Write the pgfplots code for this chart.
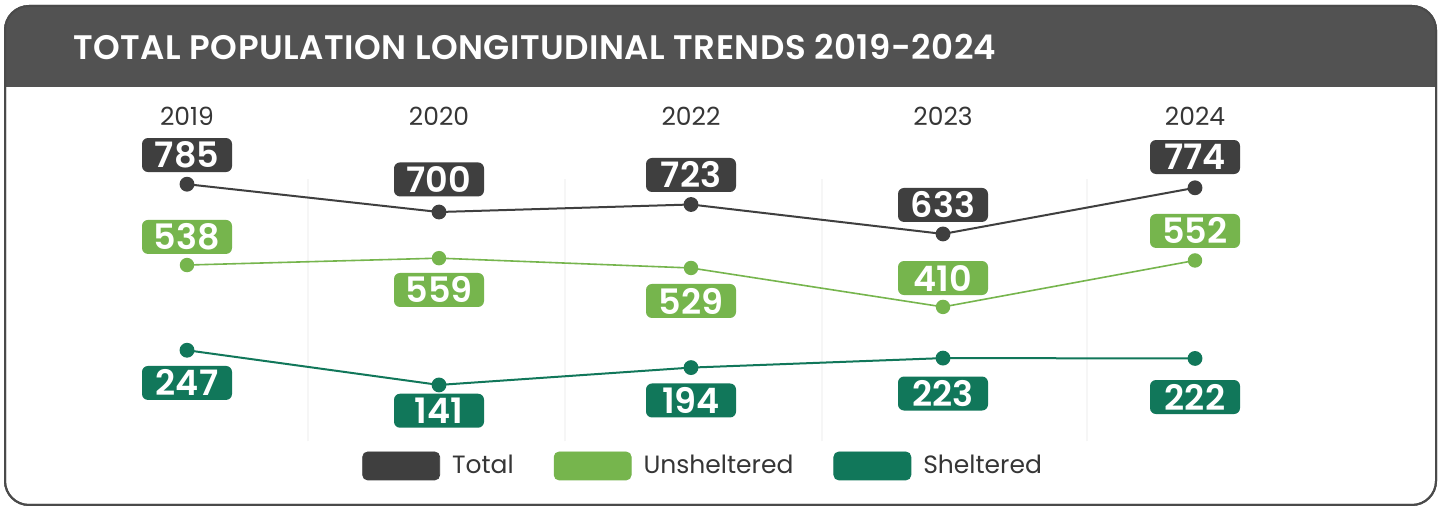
\documentclass[border=0pt]{standalone}
\usepackage{pgfplots}
\pgfplotsset{compat=1.18}
\usepackage{pgfplotstable}
\usepackage{fontspec}
\setmainfont{Poppins}
\newfontfamily\titlefont{Poppins SemiBold}[LetterSpace=1.4]
\newfontfamily\numfont{Poppins SemiBold}
\definecolor{cHead}{HTML}{525252}
\definecolor{cFrame}{HTML}{4A4A4A}
\definecolor{cTot}{HTML}{3F3F3F}
\definecolor{cUns}{HTML}{76B54D}
\definecolor{cShe}{HTML}{11775A}
\definecolor{cText}{HTML}{363636}
\definecolor{cGrid}{HTML}{F6F6F6}

\pgfplotstableread{
x y off
0 785 14.6
1 700 16.3
2 723 14.75
3 633 14.5
4 774 15.4
}\tot
\pgfplotstableread{
x y off
0 538 14.05
1 559 -15.9
2 529 -16.5
3 410 14.45
4 552 14.75
}\uns
\pgfplotstableread{
x y off
0 247 -16.35
1 141 -12.9
2 194 -16.45
3 223 -17.7
4 222 -19.3
}\she

\pgfplotsset{
  lbl/.style={
    visualization depends on={\thisrow{off}\as\off},
    nodes near coords={\pgfmathprintnumber[fixed,precision=0,assume math mode=true]{\pgfplotspointmeta}},
    every node near coord/.append style={
      anchor=center, yshift=\off pt, fill=#1, text=white,
      font=\numfont\fontsize{17.5}{17.5}\selectfont,
      minimum width=45pt, minimum height=17pt, inner sep=0pt,
      rounded corners=3pt},
  },
  swatch/.style={legend image code/.code={\fill[#1, rounded corners=2.5pt] (0pt,-7pt) rectangle (38.5pt,7pt);}},
}

\begin{document}
\begin{tikzpicture}
\useasboundingbox (0,0) rectangle (721.5pt,253pt);
% frame
\draw[line width=1pt, cFrame, fill=white, rounded corners=12pt] (2.5pt,0.5pt) rectangle (718pt,250pt);
\fill[cHead] (2.5pt,209.5pt) [rounded corners=12pt] -- (2.5pt,250pt) -- (718pt,250pt) [sharp corners] -- (718pt,209.5pt) -- cycle;
\draw[line width=1pt, cFrame, rounded corners=12pt] (2.5pt,0.5pt) rectangle (718pt,250pt);
\node[anchor=west, inner sep=0pt, text=white, font=\titlefont\fontsize{17}{17}\selectfont] at (36.5pt,229.5pt) {TOTAL POPULATION LONGITUDINAL TRENDS 2019-2024};

\begin{axis}[
  at={(93.5pt,32.45pt)}, anchor=south west,
  scale only axis, width=504pt, height=130.9pt,
  xmin=0, xmax=4, ymin=0, ymax=800,
  clip=false,
  axis line style={draw=none},
  major tick length=0pt,
  ytick=\empty,
  xtick={0,1,2,3,4},
  xticklabels={2019,2020,2022,2023,2024},
  xticklabel pos=upper,
  xticklabel style={anchor=center, yshift=31.65pt, text=cText, font=\fontsize{12.5}{12.5}\selectfont},
  extra x ticks={0.48,1.5,2.52,3.57},
  extra x tick labels={},
  extra x tick style={grid=major, major grid style={cGrid, line width=1pt}},
  legend columns=3,
  legend style={draw=none, fill=none, at={(0.511,-0.095)}, anchor=center,
    font=\fontsize{12.5}{12.5}\selectfont, text=cText,
    /tikz/every odd column/.append style={column sep=6pt},
    /tikz/every even column/.append style={column sep=20pt},
    nodes={inner sep=0pt}},
  legend cell align=left,
]
\addplot[cTot, line width=1pt, mark=*, mark size=3.2pt, lbl=cTot, forget plot] table[x=x,y=y] {\tot};
\addplot[cUns, line width=0.8pt, mark=*, mark size=3.2pt, lbl=cUns, forget plot] table[x=x,y=y] {\uns};
\addlegendimage{swatch=cTot}
\addlegendentry{Total}
\addlegendimage{swatch=cUns}
\addlegendentry{Unsheltered}
\addlegendimage{swatch=cShe}
\addlegendentry{Sheltered}
\end{axis}

\begin{axis}[
  at={(93.5pt,32.45pt)}, anchor=south west,
  scale only axis, width=504pt, height=130.9pt,
  xmin=0, xmax=4, ymin=-30.6, ymax=769.4,
  clip=false, hide axis,
]
\addplot[cShe, line width=1pt, mark=*, mark size=3.2pt, lbl=cShe] table[x=x,y=y] {\she};
\end{axis}
\end{tikzpicture}
\end{document}
